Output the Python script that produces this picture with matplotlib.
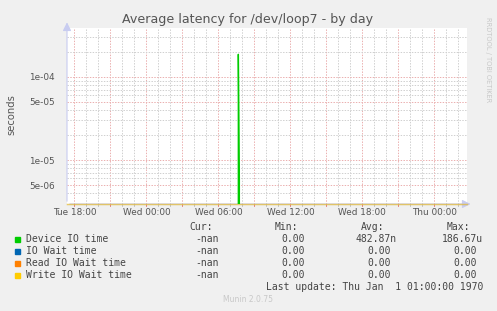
import matplotlib
matplotlib.use("Agg")
import matplotlib.pyplot as plt
import numpy as np

# ---- data ----
# time axis in hours since Tue 00:00
x_tick_hours = [18, 24, 30, 36, 42, 48]
x_tick_labels = ["Tue 18:00", "Wed 00:00", "Wed 06:00", "Wed 12:00", "Wed 18:00", "Thu 00:00"]
x_start, x_end = 17.39, 50.72

device_times = [31.5833, 31.6667, 31.75, 31.8333]
device_values = [0.0, 1.8667e-4, 6.0e-6, 0.0]
other_times = [x_start, x_end]
io_wait_values = [0.0, 0.0]
read_wait_values = [0.0, 0.0]
write_wait_values = [0.0, 0.0]

y_min, y_max = 2.96e-6, 3.92e-4
y_tick_values = [5e-6, 1e-5, 5e-5, 1e-4]
y_tick_labels = ["5e-06", "1e-05", "5e-05", "1e-04"]
y_minor_values = [3e-6, 4e-6, 6e-6, 7e-6, 8e-6, 9e-6, 2e-5, 3e-5, 4e-5,
                  6e-5, 7e-5, 8e-5, 9e-5, 2e-4, 3e-4]

series_names = ["Device IO time", "IO Wait time", "Read IO Wait time", "Write IO Wait time"]
series_colors = ["#00CC00", "#0066B3", "#FF8000", "#FFCC00"]
cur_vals = ["-nan", "-nan", "-nan", "-nan"]
min_vals = ["0.00", "0.00", "0.00", "0.00"]
avg_vals = ["482.87n", "0.00", "0.00", "0.00"]
max_vals = ["186.67u", "0.00", "0.00", "0.00"]

# ---- figure ----
W, H = 497, 311
fig = plt.figure(figsize=(W / 100, H / 100), dpi=100, facecolor="#F0F0F0")
L, R, T, B = 67, 467, 27.5, 204
ax = fig.add_axes([L / W, 1 - B / H, (R - L) / W, (B - T) / H])
ax.set_facecolor("white")
ax.set_yscale("log")
ax.set_xlim(x_start, x_end)
ax.set_ylim(y_min, y_max)
for s in ax.spines.values():
    s.set_visible(False)

GRID_LS = (0, (1.4, 1.4))
GRAY = "#D0D0D0"
RED = "#EBB0B0"
# grid
for h in range(int(np.ceil(x_start)), int(x_end) + 1):
    major = (h % 3 == 0)
    ax.axvline(h, color=RED if major else GRAY, lw=0.72, ls=GRID_LS, zorder=1)
for v in y_minor_values:
    ax.axhline(v, color=GRAY, lw=0.72, ls=GRID_LS, zorder=1)
for v in y_tick_values:
    ax.axhline(v, color=RED, lw=0.72, ls=GRID_LS, zorder=1)

ax.set_xticks(x_tick_hours)
ax.set_xticklabels(x_tick_labels, fontsize=6.4, color="#555555")
ax.set_yticks(y_tick_values)
ax.set_yticklabels(y_tick_labels, fontsize=6.4, color="#555555")
ax.yaxis.set_minor_locator(matplotlib.ticker.NullLocator())
ax.xaxis.set_minor_locator(matplotlib.ticker.NullLocator())
ax.tick_params(axis="both", length=0)
ax.tick_params(axis="y", pad=9)
ax.tick_params(axis="x", pad=3)

# small ticks below x axis
for h in range(int(np.ceil(x_start)), int(x_end) + 1):
    major = (h % 3 == 0)
    ax.plot([h, h], [0, -0.012], transform=ax.get_xaxis_transform(),
            color="#E07070" if major else "#BBBBBB", lw=0.6, clip_on=False, zorder=2)

# axes lines with arrows
ax.annotate("", xy=(1.016, 0), xytext=(0, 0), xycoords="axes fraction",
            arrowprops=dict(arrowstyle="-|>,head_length=0.5,head_width=0.25",
                            color="#C8CCF0", lw=0.8), zorder=3)
ax.annotate("", xy=(0, 1.045), xytext=(0, 0), xycoords="axes fraction",
            arrowprops=dict(arrowstyle="-|>,head_length=0.5,head_width=0.25",
                            color="#C8CCF0", lw=0.8), zorder=3)

# series
for times, vals, col, al in [(other_times, io_wait_values, series_colors[1], 0.12),
                             (other_times, read_wait_values, series_colors[2], 0.18),
                             (other_times, write_wait_values, series_colors[3], 0.45)]:
    ax.plot(times, np.maximum(vals, y_min * 1.003), color=col, lw=1.0, alpha=al,
            zorder=4, clip_on=False)
ax.plot(device_times, device_values, color=series_colors[0], lw=1.0, zorder=5)

# title and labels
fig.text(248 / W, 1 - 19.5 / H, "Average latency for /dev/loop7 - by day",
         ha="center", va="center", fontsize=9.1, color="#555555")
fig.text(11.5 / W, 1 - 115 / H, "seconds", rotation=90, ha="center", va="center",
         fontsize=7.2, color="#555555")
fig.text(488 / W, 1 - 60 / H, "RRDTOOL / TOBI OETIKER", rotation=270, ha="center",
         va="center", fontsize=4.8, color="#C8C8C8")

# legend table
mono = "DejaVu Sans Mono"
fs = 7
tc = "#444444"
def put(x, y, s, ha="left"):
    fig.text(x / W, 1 - y / H, s, ha=ha, va="center", fontsize=fs, family=mono, color=tc)

put(212.5, 227.5, "Cur:", "right")
put(298.5, 227.5, "Min:", "right")
put(384.5, 227.5, "Avg:", "right")
put(470.5, 227.5, "Max:", "right")
row_y = [239.5, 251.5, 263.5, 275.5]
for i, name in enumerate(series_names):
    y = row_y[i]
    fig.patches.append(plt.Rectangle(((14.5) / W, 1 - (y + 2.7) / H), 5.5 / W, 5.5 / H,
                                     transform=fig.transFigure, color=series_colors[i]))
    put(26, y, name)
    put(219, y, cur_vals[i], "right")
    put(305, y, min_vals[i], "right")
    a = avg_vals[i]
    put(397 if a[-1].isalpha() else 391, y, a, "right")
    m = max_vals[i]
    put(483 if m[-1].isalpha() else 477, y, m, "right")
put(483, 287.5, "Last update: Thu Jan  1 01:00:00 1970", "right")
fig.text(248 / W, 1 - 300 / H, "Munin 2.0.75", ha="center", va="center",
         fontsize=5.5, color="#C8C8C8")

fig.savefig("out.png", dpi=100, facecolor=fig.get_facecolor())
